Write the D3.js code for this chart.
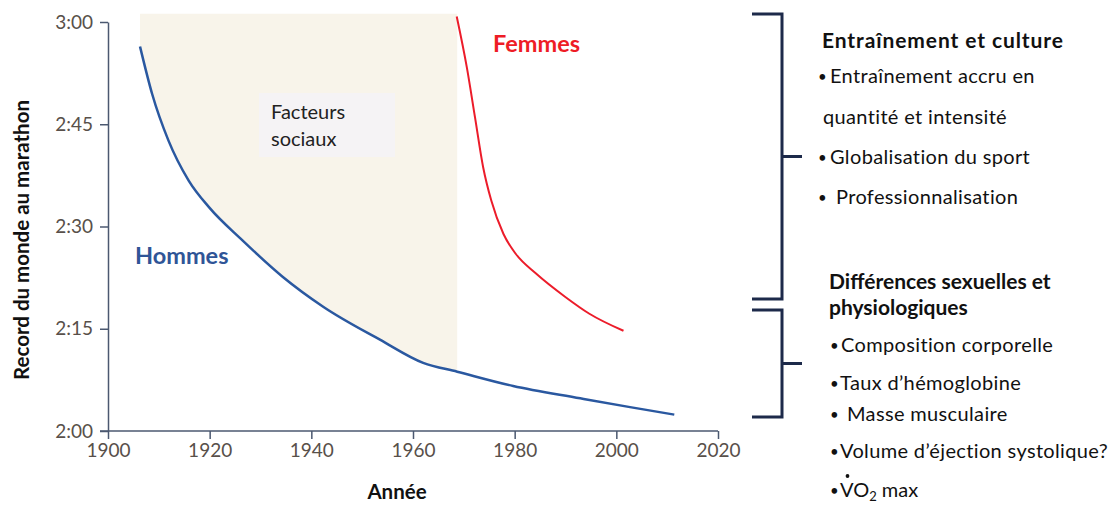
<!DOCTYPE html>
<html>
<head>
<meta charset="utf-8">
<script src="https://cdn.jsdelivr.net/npm/d3@7"></script>
<style>
  body { margin: 0; background: #fff; }
  svg { font-family: Lato, sans-serif; }
</style>
</head>
<body>
<svg width="1115" height="506"></svg>
<script>
// records: year, minutes
const menYears = [1906.3, 1908.7, 1911.9, 1915.9, 1919.9, 1926.4, 1934.4, 1942.4, 1953.5, 1962.0, 1968.7, 1979.7, 1992.9, 2002.7, 2011.4];
const menTimes = [176.4, 169.4, 162.6, 156.7, 152.8, 148.0, 142.6, 138.2, 133.4, 130.0, 128.7, 126.6, 124.8, 123.5, 122.4];
const womenYears = [1968.6, 1970.6, 1972.2, 1973.8, 1975.4, 1977.8, 1980.2, 1984.2, 1989.9, 1994.7, 2001.4];
const womenTimes = [180.8, 173.3, 166.0, 158.7, 153.8, 148.9, 146.0, 143.1, 139.7, 137.2, 134.7];
const socialSpan = [1906.3, 1968.7];
const xTicks = [1900, 1920, 1940, 1960, 1980, 2000, 2020];
const yTicks = [120, 135, 150, 165, 180];

const group1Title = ["Entraînement et culture"];
const group1Items = ["Entraînement accru en", "quantité et intensité", "Globalisation du sport", "Professionnalisation"];
const group1Bullets = [true, false, true, true];
const group2Title = ["Différences sexuelles et", "physiologiques"];
const group2Items = ["Composition corporelle", "Taux d’hémoglobine", "Masse musculaire", "Volume d’éjection systolique?"];

const svg = d3.select("svg");
const x = d3.scaleLinear().domain([1900, 2020]).range([108, 718]);
const y = d3.scaleLinear().domain([120, 180]).range([431, 22]);

const men = menYears.map((yr, i) => ({ yr, t: menTimes[i] }));
const women = womenYears.map((yr, i) => ({ yr, t: womenTimes[i] }));

// shaded "facteurs sociaux" region above the men curve
const shade = men.filter(d => d.yr >= socialSpan[0] && d.yr <= socialSpan[1]);
const area = d3.area()
  .x(d => x(d.yr))
  .y0(y(181.2))
  .y1(d => y(d.t))
  .curve(d3.curveMonotoneX);
svg.append("path").datum(shade).attr("d", area).attr("fill", "#f8f4ea");

svg.append("rect")
  .attr("x", 259).attr("y", 93).attr("width", 136).attr("height", 64)
  .attr("fill", "#f5f3f5");
svg.append("g").selectAll("text").data(["Facteurs", "sociaux"]).join("text")
  .attr("x", 271).attr("y", (d, i) => 119 + i * 27)
  .attr("font-size", 20).attr("fill", "#222").text(d => d);

const line = d3.line().x(d => x(d.yr)).y(d => y(d.t)).curve(d3.curveMonotoneX);
svg.append("path").datum(men).attr("d", line)
  .attr("fill", "none").attr("stroke", "#2a58a0").attr("stroke-width", 2.5);
svg.append("path").datum(women).attr("d", line)
  .attr("fill", "none").attr("stroke", "#ec1c2a").attr("stroke-width", 2);

// axes
const axisColor = "#4b5870";
const fmt = m => `${Math.floor(m / 60)}:${String(m % 60).padStart(2, "0")}`;

const gx = svg.append("g").attr("transform", `translate(0,${y(120)})`)
  .call(d3.axisBottom(x).tickValues(xTicks).tickFormat(d3.format("d")).tickSize(8).tickSizeOuter(0));
const gy = svg.append("g").attr("transform", `translate(${x(1900)},0)`)
  .call(d3.axisLeft(y).tickValues(yTicks).tickFormat(fmt).tickSize(8).tickSizeOuter(0));
[gx, gy].forEach(g => {
  g.select(".domain").attr("stroke", axisColor).attr("stroke-width", 1.5);
  g.selectAll(".tick line").attr("stroke", axisColor).attr("stroke-width", 1.5);
  g.selectAll(".tick text").attr("fill", "#58504a").attr("font-size", 19)
    .attr("font-family", "Lato, sans-serif");
});
gx.select(".domain").attr("d", `M${x(1900) - 8},0H${x(2020)}`);
gx.selectAll(".tick text").attr("dy", "0.8em");
gy.selectAll(".tick text").attr("x", -15);

svg.append("text").attr("x", 397).attr("y", 499).attr("text-anchor", "middle")
  .attr("font-size", 20.5).attr("font-weight", "bold").attr("fill", "#111").text("Année");
svg.append("text").attr("transform", `translate(29,240) rotate(-90)`).attr("text-anchor", "middle")
  .attr("font-size", 20.5).attr("font-weight", "bold").attr("fill", "#111")
  .text("Record du monde au marathon");

svg.append("text").attr("x", 135).attr("y", 264).attr("font-size", 23.5).attr("font-weight", "bold")
  .attr("fill", "#2f5597").text("Hommes");
svg.append("text").attr("x", 493).attr("y", 52).attr("font-size", 23.5).attr("font-weight", "bold")
  .attr("fill", "#ee1c25").text("Femmes");

// brackets on the right
const bracketColor = "#1d2a4a";
function bracket(top, bottom) {
  const mid = (top + bottom) / 2;
  svg.append("path")
    .attr("d", `M752,${top}H782V${bottom}H752M782,${mid}H802`)
    .attr("fill", "none").attr("stroke", bracketColor).attr("stroke-width", 3);
}
bracket(14, 299);
bracket(310, 417);

const textColor = "#111";
function title(list, x0, ys, spacing) {
  svg.append("g").selectAll("text").data(list).join("text")
    .attr("x", x0).attr("y", (d, i) => ys[i])
    .attr("font-size", 21).attr("font-weight", "bold").attr("letter-spacing", spacing)
    .attr("fill", textColor).text(d => d);
}
function items(list, bullets, bx, tx, ys) {
  const g = svg.append("g");
  g.selectAll("text.item").data(list).join("text").attr("class", "item")
    .attr("x", (d, i) => tx[i]).attr("y", (d, i) => ys[i])
    .attr("font-size", 20).attr("letter-spacing", 0.35).attr("fill", textColor)
    .text(d => d);
  g.selectAll("text.bullet").data(list.filter((d, i) => bullets[i])).join("text").attr("class", "bullet")
    .attr("x", bx).attr("y", d => ys[list.indexOf(d)] - 1)
    .attr("font-size", 15).attr("fill", textColor).text("•");
}
title(group1Title, 822, [48], 0.9);
items(group1Items, group1Bullets, 818, [830, 823, 830, 836], [83, 124, 164, 204]);
title(group2Title, 829, [289, 315], 0);
items(group2Items, [true, true, true, true], 830, [841, 840, 847, 840], [352, 390, 421, 458]);

// VO2 max with dot above V
svg.append("text").attr("x", 830).attr("y", 496).attr("font-size", 15).attr("fill", textColor).text("•");
const vo = svg.append("text").attr("x", 840).attr("y", 497).attr("font-size", 20).attr("fill", textColor);
vo.append("tspan").text("VO");
vo.append("tspan").attr("font-size", 13).attr("dy", 4).text("2");
vo.append("tspan").attr("dy", -4).text(" max");
svg.append("circle").attr("cx", 847.5).attr("cy", 476).attr("r", 1.9).attr("fill", textColor);
</script>
</body>
</html>
